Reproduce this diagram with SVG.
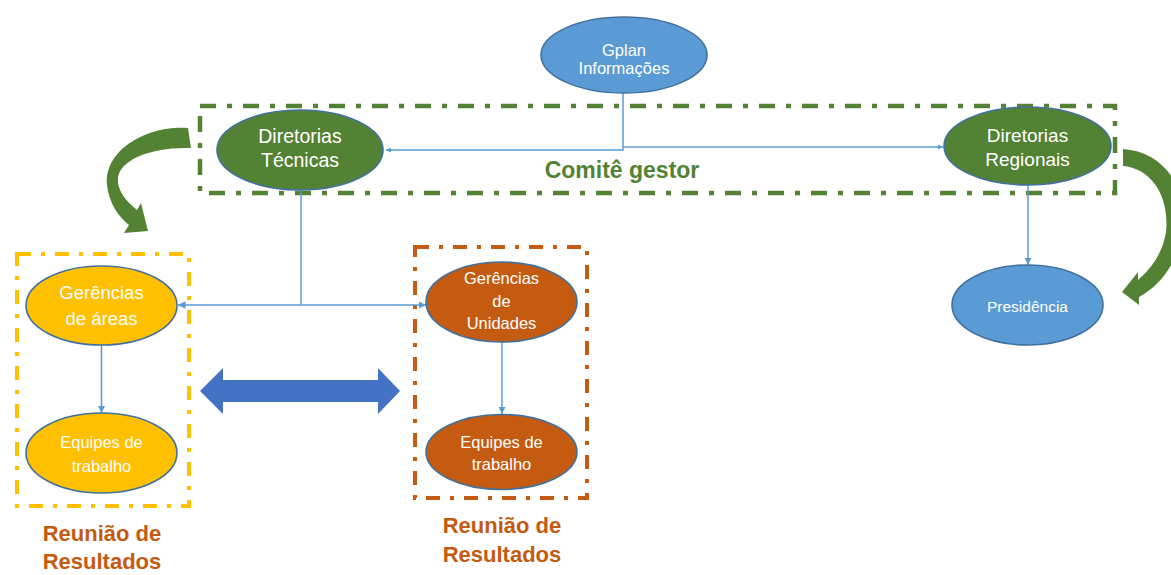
<svg xmlns="http://www.w3.org/2000/svg" width="1171" height="575" viewBox="0 0 1171 575">
<defs>
<style>
.node ellipse{stroke:#41719C;stroke-width:1.6}
.blue{fill:#5B9BD5}
.green{fill:#548235}
.yellow{fill:#FFC000}
.orange{fill:#C55A11}
.t{font-family:"Liberation Sans",Arial,sans-serif;fill:#FFFFFF;text-anchor:middle}
.conn{fill:none;stroke:#5B9BD5;stroke-width:1.5}
.box{fill:none;stroke-linecap:butt}
.lbl{font-family:"Liberation Sans",Arial,sans-serif;font-weight:bold;text-anchor:middle}
</style>
<marker id="ah" viewBox="0 0 10 10" refX="10" refY="5" markerWidth="5" markerHeight="5" orient="auto" markerUnits="strokeWidth">
<path d="M0,0 L10,5 L0,10 Z" fill="#5B9BD5"/>
</marker>
<marker id="ah2" viewBox="0 0 10 10" refX="10" refY="5" markerWidth="3.5" markerHeight="3.5" orient="auto" markerUnits="strokeWidth">
<path d="M0,0 L10,5 L0,10 Z" fill="#5B9BD5"/>
</marker>
</defs>
<rect width="1171" height="575" fill="#FFFFFF"/>

<g id="groups">
<rect class="box" x="200" y="106" width="915" height="87" stroke="#548235" stroke-width="4.5" stroke-dasharray="16 11 5 11"/>
<rect class="box" x="17" y="254" width="172" height="252" stroke="#FFC000" stroke-width="4" stroke-dasharray="14 10 4 10"/>
<rect class="box" x="415" y="247" width="172" height="251" stroke="#C55A11" stroke-width="4" stroke-dasharray="14 10 4 10"/>
</g>

<g id="connectors">
<path class="conn" d="M623,92 V150 H386" stroke-width="2.5" marker-end="url(#ah2)"/>
<path class="conn" d="M623,147 H943" stroke-width="2.5" marker-end="url(#ah2)"/>
<path class="conn" d="M301,190 V305"/>
<path class="conn" d="M301,305 H178" marker-end="url(#ah)"/>
<path class="conn" d="M301,305 H426" marker-end="url(#ah)"/>
<path class="conn" d="M101.5,345 V413" marker-end="url(#ah)"/>
<path class="conn" d="M502,342 V414" marker-end="url(#ah)"/>
<path class="conn" d="M1028,185 V265" marker-end="url(#ah)"/>
<path d="M200,391 L223,368 L223,380 L378,380 L378,368 L400,391 L378,414 L378,402 L223,402 L223,414 Z" fill="#4472C4"/>
<path d="M188,128 C150,125 104,148 107,185 C109,203 118,216 129,225 L124,233 L148,231 L141,203 L137,210 C125,200 117,190 118,178 C120,160 150,147 191,148 Z" fill="#548235"/>
<path d="M1123,149 C1170,152 1195,200 1180,245 C1172,268 1160,285 1139,297 L1139,305 L1122,292 L1138,272 L1138,280 C1155,265 1163,250 1166,232 C1170,195 1150,168 1123,166 Z" fill="#548235"/>
</g>

<g id="gplan" class="node">
<ellipse class="blue" cx="624" cy="55" rx="83" ry="38"/>
<text class="t" font-size="16.5"><tspan x="624" y="56">Gplan</tspan><tspan x="624" y="74">Informações</tspan></text>
</g>

<g id="diretorias-tecnicas" class="node">
<ellipse class="green" cx="300" cy="150" rx="83" ry="40"/>
<text class="t" font-size="19.5"><tspan x="300" y="143">Diretorias</tspan><tspan x="300" y="167">Técnicas</tspan></text>
</g>

<g id="diretorias-regionais" class="node">
<ellipse class="green" cx="1027.5" cy="146" rx="83.5" ry="39"/>
<text class="t" font-size="19"><tspan x="1027.5" y="142">Diretorias</tspan><tspan x="1027.5" y="166">Regionais</tspan></text>
</g>

<text class="lbl" x="622" y="178" font-size="23" fill="#548235">Comitê gestor</text>

<g id="gerencias-areas" class="node">
<ellipse class="yellow" cx="101.5" cy="305.5" rx="75.5" ry="39.5"/>
<text class="t" font-size="18.5"><tspan x="101.5" y="299">Gerências</tspan><tspan x="101.5" y="325">de áreas</tspan></text>
</g>

<g id="equipes-yellow" class="node">
<ellipse class="yellow" cx="101.5" cy="453" rx="75.5" ry="40"/>
<text class="t" font-size="16.5"><tspan x="101.5" y="448">Equipes de</tspan><tspan x="101.5" y="472">trabalho</tspan></text>
</g>

<g id="gerencias-unidades" class="node">
<ellipse class="orange" cx="501.5" cy="302" rx="75.5" ry="40"/>
<text class="t" font-size="16.5"><tspan x="501.5" y="284">Gerências</tspan><tspan x="501.5" y="307">de</tspan><tspan x="501.5" y="329">Unidades</tspan></text>
</g>

<g id="equipes-orange" class="node">
<ellipse class="orange" cx="501.5" cy="452" rx="75.5" ry="37.5"/>
<text class="t" font-size="16.5"><tspan x="501.5" y="448">Equipes de</tspan><tspan x="501.5" y="470">trabalho</tspan></text>
</g>

<g id="presidencia" class="node">
<ellipse class="blue" cx="1027.5" cy="305" rx="75.5" ry="40"/>
<text class="t" x="1027.5" y="312" font-size="15.5">Presidência</text>
</g>

<text class="lbl" font-size="22" fill="#C55A11"><tspan x="102" y="541">Reunião de</tspan><tspan x="102" y="569">Resultados</tspan></text>
<text class="lbl" font-size="22" fill="#C55A11"><tspan x="502" y="533">Reunião de</tspan><tspan x="502" y="562">Resultados</tspan></text>
</svg>
